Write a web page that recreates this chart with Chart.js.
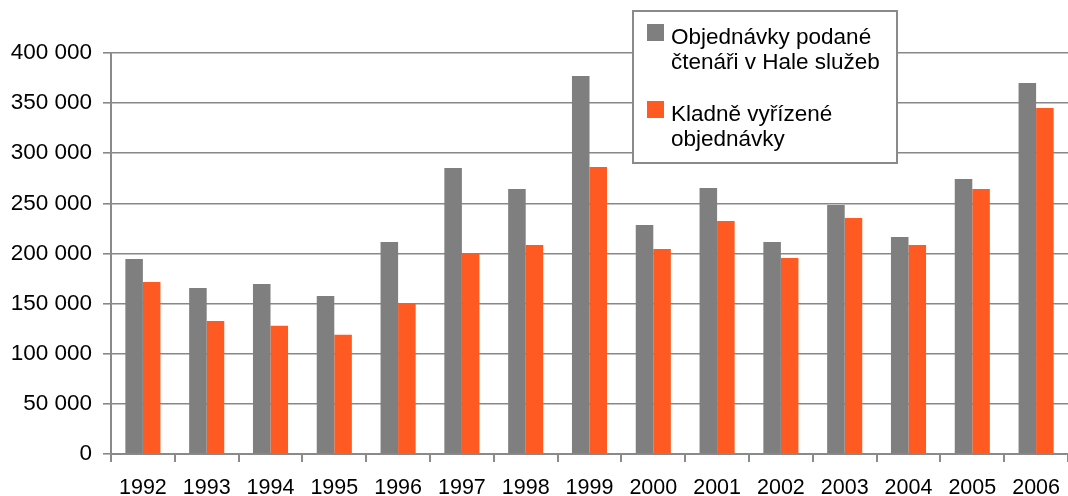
<!DOCTYPE html>
<html>
<head>
<meta charset="utf-8">
<script src="https://cdn.jsdelivr.net/npm/chart.js@4"></script>
<style>
    html, body { margin: 0; padding: 0; background: #fff; }
    #wrap { width: 1068px; height: 496px; position: relative; }
</style>
</head>
<body>
<div id="wrap"><canvas id="chart"></canvas></div>
<script>
// Data
const years = ['1992', '1993', '1994', '1995', '1996', '1997', '1998', '1999',
    '2000', '2001', '2002', '2003', '2004', '2005', '2006'];
const submitted = [194500, 165600, 169600, 157600, 211500, 285300, 264300, 377000,
    228400, 265300, 211500, 248400, 216500, 274300, 370000];
const approved = [171600, 132700, 127900, 119000, 150600, 200500, 208500, 286300,
    204500, 232400, 195500, 235400, 208500, 264300, 345100];
const seriesNames = ['Objednávky podané čtenáři v Hale služeb', 'Kladně vyřízené objednávky'];
const legendLines = [
    ['Objednávky podané', 'čtenáři v Hale služeb'],
    ['Kladně vyřízené', 'objednávky']
];

const GREY = '#7f7f7f';
const ORANGE = '#ff5a22';
const FONT = "'Liberation Sans', Arial, sans-serif";

// legend box drawn on top of the plot
const boxLegend = {
    id: 'boxLegend',
    afterDraw(chart) {
        const ctx = chart.ctx;
        ctx.save();
        ctx.fillStyle = '#fff';
        ctx.fillRect(633, 11, 264, 152);
        ctx.strokeStyle = '#8a8a8a';
        ctx.lineWidth = 2;
        ctx.strokeRect(633, 11, 264, 152);

        const tops = [24, 101];
        ctx.font = '22.5px ' + FONT;
        ctx.textBaseline = 'alphabetic';
        chart.data.datasets.forEach((ds, i) => {
            ctx.fillStyle = ds.backgroundColor;
            ctx.fillRect(647, tops[i], 17, 17);
            ctx.fillStyle = '#000';
            legendLines[i].forEach((line, j) => {
                ctx.fillText(line, 671, tops[i] + 20 + j * 24.5);
            });
        });
        ctx.restore();
    }
};

function formatThousands(v) {
    return String(v).replace(/\B(?=(\d{3})+(?!\d))/g, ' ');
}

function drawChart() {
    const ctx = document.getElementById('chart');
    new Chart(ctx, {
        type: 'bar',
        data: {
            labels: years,
            datasets: [
                { label: seriesNames[0], data: submitted, backgroundColor: GREY },
                { label: seriesNames[1], data: approved, backgroundColor: ORANGE }
            ]
        },
        options: {
            responsive: true,
            maintainAspectRatio: false,
            animation: false,
            datasets: {
                bar: { categoryPercentage: 0.55, barPercentage: 1.0 }
            },
            layout: { padding: { top: 53, right: 0, bottom: 0, left: 0 } },
            plugins: {
                legend: { display: false },
                tooltip: { enabled: false }
            },
            scales: {
                x: {
                    grid: {
                        offset: true,
                        drawOnChartArea: false,
                        tickLength: 8,
                        color: '#8a8a8a',
                        lineWidth: 2
                    },
                    border: { color: '#8a8a8a', width: 2 },
                    ticks: {
                        color: '#000',
                        font: { family: FONT, size: 21.5 },
                        padding: 13,
                        maxRotation: 0,
                        autoSkip: false
                    },
                    afterFit(scale) {
                        scale.height = 42;
                        scale.paddingLeft = 0;
                        scale.paddingRight = 0;
                    }
                },
                y: {
                    min: 0,
                    max: 400000,
                    grid: {
                        color: '#888',
                        lineWidth: 1.6,
                        tickLength: 8
                    },
                    border: { color: '#8a8a8a', width: 2 },
                    ticks: {
                        stepSize: 50000,
                        color: '#000',
                        font: { family: FONT, size: 22.5 },
                        padding: 11,
                        callback: v => formatThousands(v)
                    },
                    afterFit(scale) { scale.width = 111; }
                }
            }
        },
        plugins: [boxLegend]
    });
}

document.addEventListener('DOMContentLoaded', drawChart);
</script>
</body>
</html>
